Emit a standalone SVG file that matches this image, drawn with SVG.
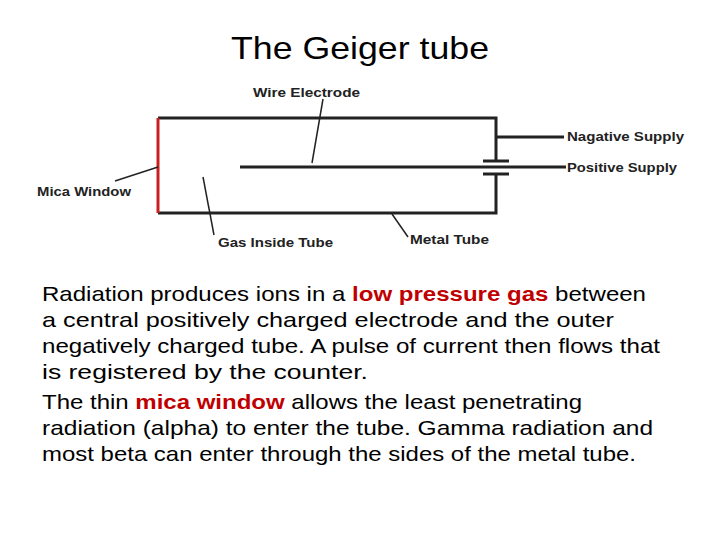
<svg xmlns="http://www.w3.org/2000/svg" width="720" height="540" viewBox="0 0 720 540">
<style>
.t{font-family:"Liberation Sans",Arial,sans-serif;font-size:21px;fill:#000}
.r{fill:#c00000}
.l{font-family:"Liberation Sans",Arial,sans-serif;font-size:12.5px;font-weight:bold;fill:#222}
.w{stroke:#222;stroke-width:3;fill:none}
.k{stroke:#222;stroke-width:1.5;fill:none}
</style>
<rect width="720" height="540" fill="#fff"/>
<text x="231" y="59" textLength="258" lengthAdjust="spacingAndGlyphs" style="font-family:'Liberation Sans',Arial,sans-serif;font-size:32px">The Geiger tube</text>
<g id="tube">
<path class="w" d="M158 118H496V161M496 175V213H158"/>
<line x1="158" y1="118" x2="158" y2="213" stroke="#c8201e" stroke-width="3"/>
</g>
<g id="wire"><line class="w" x1="240" y1="167" x2="566" y2="167"/></g>
<g id="capacitor"><line class="w" x1="483" y1="161" x2="509" y2="161"/><line class="w" x1="483" y1="174" x2="509" y2="174"/></g>
<g id="neg"><line class="w" x1="496" y1="137" x2="564" y2="137"/></g>
<g id="connectors">
<line class="k" x1="323" y1="99" x2="312" y2="163"/>
<line class="k" x1="115" y1="181" x2="158" y2="167"/>
<line class="k" x1="203" y1="177" x2="214" y2="235"/>
<line class="k" x1="392" y1="214" x2="408" y2="237"/>
</g>
<g id="labels">
<text class="l" x="253" y="97" textLength="107" lengthAdjust="spacingAndGlyphs">Wire Electrode</text>
<text class="l" x="567" y="141" textLength="117" lengthAdjust="spacingAndGlyphs">Nagative Supply</text>
<text class="l" x="567" y="172" textLength="110" lengthAdjust="spacingAndGlyphs">Positive Supply</text>
<text class="l" x="37" y="196" textLength="94" lengthAdjust="spacingAndGlyphs">Mica Window</text>
<text class="l" x="218" y="247" textLength="115" lengthAdjust="spacingAndGlyphs">Gas Inside Tube</text>
<text class="l" x="410" y="244" textLength="79" lengthAdjust="spacingAndGlyphs">Metal Tube</text>
</g>
<g id="body">
<text class="t" x="42" y="301" textLength="604" lengthAdjust="spacingAndGlyphs">Radiation produces ions in a <tspan class="r" font-weight="bold">low pressure gas</tspan> between</text>
<text class="t" x="42" y="327" textLength="572" lengthAdjust="spacingAndGlyphs">a central positively charged electrode and the outer</text>
<text class="t" x="42" y="353" textLength="618" lengthAdjust="spacingAndGlyphs">negatively charged tube. A pulse of current then flows that</text>
<text class="t" x="42" y="379" textLength="326" lengthAdjust="spacingAndGlyphs">is registered by the counter.</text>
<text class="t" x="42" y="409" textLength="540" lengthAdjust="spacingAndGlyphs">The thin <tspan class="r" font-weight="bold">mica window</tspan> allows the least penetrating</text>
<text class="t" x="42" y="435" textLength="611" lengthAdjust="spacingAndGlyphs">radiation (alpha) to enter the tube. Gamma radiation and</text>
<text class="t" x="42" y="461" textLength="594" lengthAdjust="spacingAndGlyphs">most beta can enter through the sides of the metal tube.</text>
</g>
</svg>
